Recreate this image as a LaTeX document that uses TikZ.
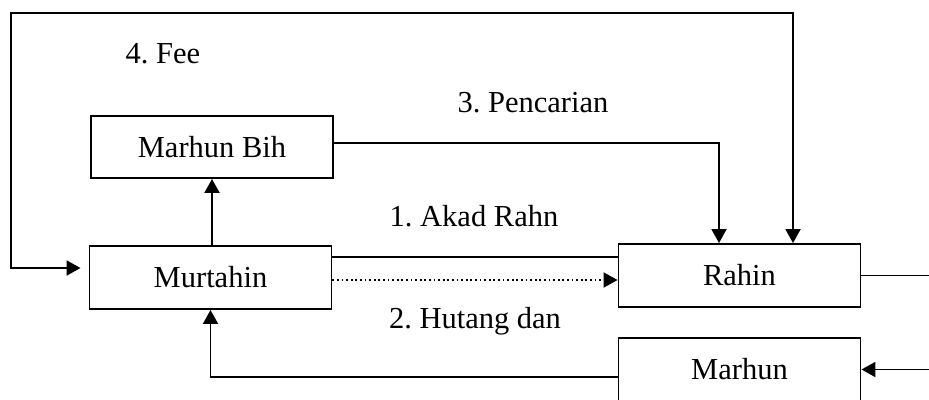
\documentclass[tikz,border=0pt]{standalone}
\usepackage{fontspec}
\setmainfont{Liberation Serif}
\usetikzlibrary{arrows.meta}
\frenchspacing
\begin{document}
\begin{tikzpicture}[x=1pt,y=-1pt, line width=1.9pt,
  txt/.style={font=\fontsize{30.5}{36}\selectfont},
  box/.style={draw, txt, minimum width=242pt, minimum height=62pt, inner sep=0pt},
  lbl/.style={txt, anchor=base, inner sep=0pt},
  tip/.tip={Triangle[length=14pt,width=15pt]},
  arr/.style={-tip},
  dots/.style={dash pattern=on 1.8pt off 2.8pt}]
\clip (0,0) rectangle (929,399);
\useasboundingbox (0,0) rectangle (929,399);
% boxes
\node[box] (bih) at (212,147) {Marhun Bih};
\node[box, minimum height=63pt] (mur) at (210.5,277.5) {Murtahin};
\node[box, minimum height=63pt] (rah) at (739.5,275.5) {Rahin};
\node[box, minimum height=63pt] (mar) at (739.5,369.5) {Marhun};
% labels
\node[lbl] (fee) at (163,63) {4. Fee};
\node[lbl] (pen) at (533,112) {3. Pencarian};
\node[lbl] (akad) at (474,226) {1. Akad Rahn};
\node[lbl] (hut) at (475,328) {2. Hutang dan};
% free ends
\coordinate (tl) at (11,13);
\coordinate (rr) at (929,275.5);
\coordinate (mr) at (929,369.5);
% connectors
\draw[tip-tip, shorten >=8pt] ([xshift=53.5pt]rah.north) |- (tl) |- ([yshift=9.5pt]mur.west);
\draw[arr] ([yshift=4pt]bih.east) -| ([xshift=-20.5pt]rah.north);
\draw[arr] (mur.north -| bih.south) -- (bih.south);
\draw ([yshift=20.5pt]mur.east) -- ([yshift=18.5pt]rah.west);
\draw[arr, dots] ([yshift=-2.5pt]mur.east) -- ([yshift=-4.5pt]rah.west);
\draw (rah.east) -- (rr);
\draw[arr] (mr) -- (mar.east);
\draw[arr] ([yshift=-7.5pt]mar.west) -| (mur.south);
\end{tikzpicture}
\end{document}
